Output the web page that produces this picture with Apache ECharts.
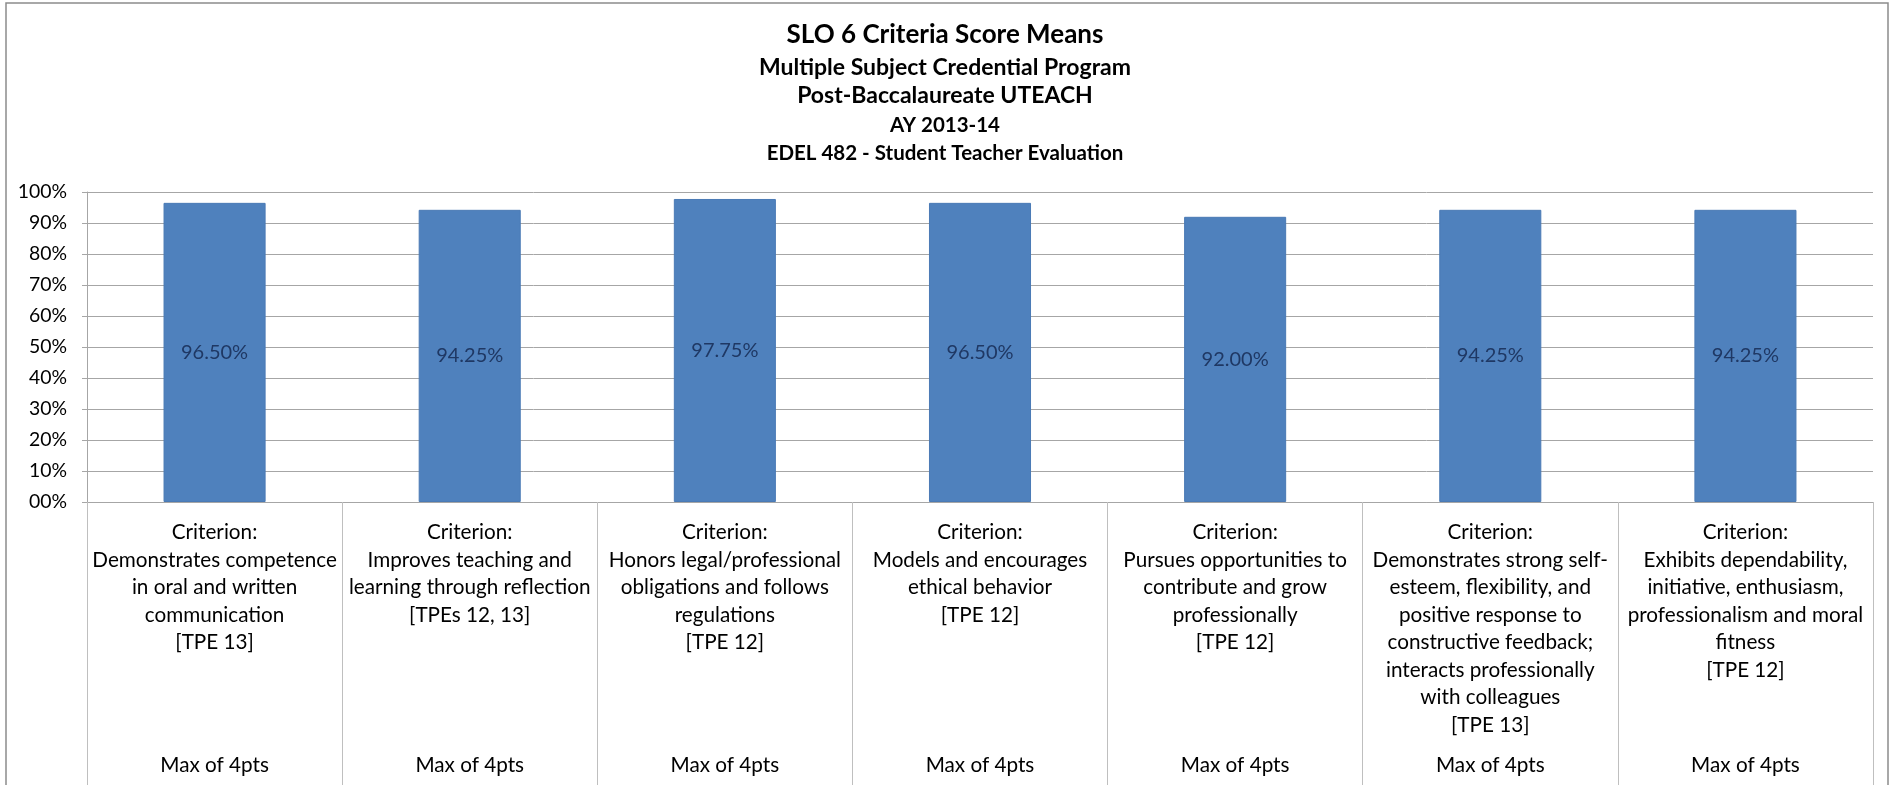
<!DOCTYPE html>
<html>
<head>
<meta charset="utf-8">
<script src="https://cdn.jsdelivr.net/npm/echarts@6/dist/echarts.min.js"></script>
<style>
html,body{margin:0;padding:0;background:#fff;}
#chart{width:1891px;height:785px;}
</style>
</head>
<body>
<div id="chart"></div>
<script>
var titleLines = ['SLO 6 Criteria Score Means','Multiple Subject Credential Program','Post-Baccalaureate UTEACH','AY 2013-14','EDEL 482 - Student Teacher Evaluation'];
var categories = [
  'Criterion:\nDemonstrates competence\nin oral and written\ncommunication\n[TPE 13]',
  'Criterion:\nImproves teaching and\nlearning through reflection\n[TPEs 12, 13]',
  'Criterion:\nHonors legal/professional\nobligations and follows\nregulations\n[TPE 12]',
  'Criterion:\nModels and encourages\nethical behavior\n[TPE 12]',
  'Criterion:\nPursues opportunities to\ncontribute and grow\nprofessionally\n[TPE 12]',
  'Criterion:\nDemonstrates strong self-\nesteem, flexibility, and\npositive response to\nconstructive feedback;\ninteracts professionally\nwith colleagues\n[TPE 13]',
  'Criterion:\nExhibits dependability,\ninitiative, enthusiasm,\nprofessionalism and moral\nfitness\n[TPE 12]'
];
var maxLabels = ['Max of 4pts','Max of 4pts','Max of 4pts','Max of 4pts','Max of 4pts','Max of 4pts','Max of 4pts'];
var values = [96.50, 94.25, 97.75, 96.50, 92.00, 94.25, 94.25];
var yTicks = [0,10,20,30,40,50,60,70,80,90,100];

// ---- styling ----
var FONT = 'Lato';
var titleSizes = [26, 23, 23, 20.5, 20.5];
var titleCenterY = [35, 68, 96, 125, 153];
var catSize = 20.7;
var ySize = 19.4;
var barLblSize = 20;

var chart = echarts.init(document.getElementById('chart'), null, {renderer:'canvas'});
var graphics = [{type:'rect',shape:{x:6,y:3,width:1882,height:820},
    style:{fill:'none',stroke:'#8c8c8c',lineWidth:1.5},silent:true}];
titleLines.forEach(function(t,i){
  graphics.push({type:'text',x:945,y:titleCenterY[i],silent:true,
    style:{text:t,align:'center',verticalAlign:'middle',fill:'#000',
      font:'bold '+titleSizes[i]+'px '+FONT}});
});
chart.setOption({
  backgroundColor:'#fff',
  animation:false,
  graphic:graphics,
  grid:{left:87,right:18,top:192,bottom:283,containLabel:false},
  xAxis:[{
    type:'category',data:categories,position:'bottom',
    axisLine:{show:true,lineStyle:{color:'#a6a6a6',width:1}},
    axisTick:{show:true,interval:0,length:283,lineStyle:{color:'#bfbfbf',width:1}},
    axisLabel:{interval:0,margin:17,fontFamily:FONT,fontSize:catSize,color:'#000',lineHeight:27.5,align:'center',verticalAlign:'top'}
  },{
    type:'category',data:maxLabels,position:'bottom',offset:236,gridIndex:0,
    axisLine:{show:false},axisTick:{show:false},
    axisLabel:{interval:0,margin:14,fontFamily:FONT,fontSize:catSize,color:'#000',lineHeight:27.5,verticalAlign:'top'}
  }],
  yAxis:{
    type:'value',min:yTicks[0],max:yTicks[yTicks.length-1],interval:yTicks[1]-yTicks[0],
    axisLine:{show:true,lineStyle:{color:'#a6a6a6'}},
    axisTick:{show:true,length:5,lineStyle:{color:'#a6a6a6'}},
    splitLine:{show:true,lineStyle:{color:'#a6a6a6',width:1}},
    axisLabel:{margin:20,fontFamily:FONT,fontSize:ySize,color:'#000',
      formatter:function(v){return (v===0?'00':v)+'%';}}
  },
  series:[{
    type:'bar',data:values,xAxisIndex:0,barWidth:'40%',
    itemStyle:{color:'#4f81bd',borderColor:'#4a7ab5',borderWidth:1},
    label:{show:true,position:'inside',fontFamily:FONT,fontSize:barLblSize,color:'#1f3864',
      formatter:function(p){return p.value.toFixed(2)+'%';}}
  }]
});
</script>
</body>
</html>
